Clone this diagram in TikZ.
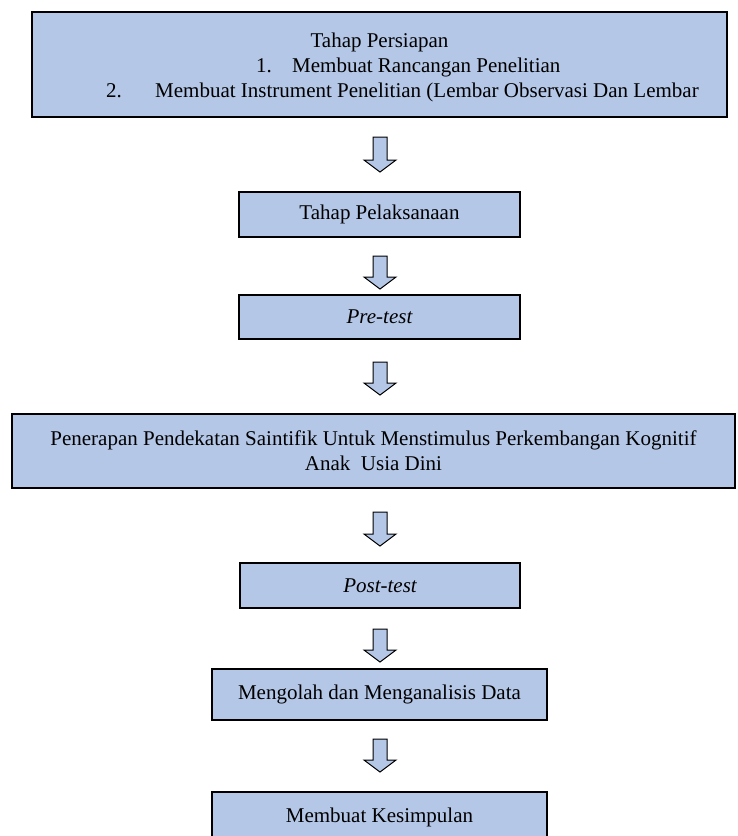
\documentclass[tikz,border=0pt]{standalone}
\usepackage{fontspec}
\setmainfont{Liberation Serif}
\definecolor{boxblue}{HTML}{B4C7E7}
\tikzset{
  x=1pt, y=-1pt,
  every node/.append style={font=\fontsize{21}{25}\selectfont},
  flowbox/.style={draw=black, fill=boxblue, line width=1.8pt, inner sep=0pt, align=center},
  plain/.style={inner sep=0pt},
  arrowfill/.style={draw=black, fill=boxblue, line width=1pt, line join=miter},
  pics/barrow/.style={code={
    \draw[arrowfill] (-7,0) -- (7,0) -- (7,#1-12) -- (16,#1-12) -- (0,#1) -- (-16,#1-12) -- (-7,#1-12) -- cycle;
  }}
}
\begin{document}
\begin{tikzpicture}
\useasboundingbox (0,0) rectangle (737,836);
% boxes
\node[flowbox, minimum width=695pt, minimum height=105pt] (prep) at (379.5,64.5) {};
\node[plain, anchor=base] (t1) at (379.5,47) {Tahap Persiapan};
\node[plain, anchor=base west] (t2a) at (256,72) {1.};
\node[plain, anchor=base west] (t2b) at (292,72) {Membuat Rancangan Penelitian};
\node[plain, anchor=base west] (t3a) at (106,97) {2.};
\node[plain, anchor=base west] (t3b) at (155,97) {Membuat Instrument Penelitian (Lembar Observasi Dan Lembar};

\node[flowbox, minimum width=281pt, minimum height=45pt] (pel) at (379.5,214.5) {Tahap Pelaksanaan};
\node[flowbox, minimum width=281pt, minimum height=44pt] (pre) at (379.5,317) {\itshape Pre-test};
\node[flowbox, minimum width=723pt, minimum height=74pt] (pen) at (373.5,451) {Penerapan Pendekatan Saintifik Untuk Menstimulus Perkembangan Kognitif\\Anak~ Usia Dini};
\node[flowbox, minimum width=280pt, minimum height=45pt] (post) at (380,585.5) {\itshape Post-test};
\node[flowbox, minimum width=335pt, minimum height=51pt] (olah) at (379.5,694.5) {Mengolah dan Menganalisis Data};
\node[flowbox, minimum width=335pt, minimum height=50pt] (simp) at (379.5,817) {Membuat Kesimpulan};

% block arrows
\pic at (380,137) {barrow=35};
\pic at (380,256) {barrow=33};
\pic at (380,362) {barrow=33};
\pic at (380,512) {barrow=34};
\pic at (380,629) {barrow=33};
\pic at (380,739) {barrow=33};
\end{tikzpicture}
\end{document}
